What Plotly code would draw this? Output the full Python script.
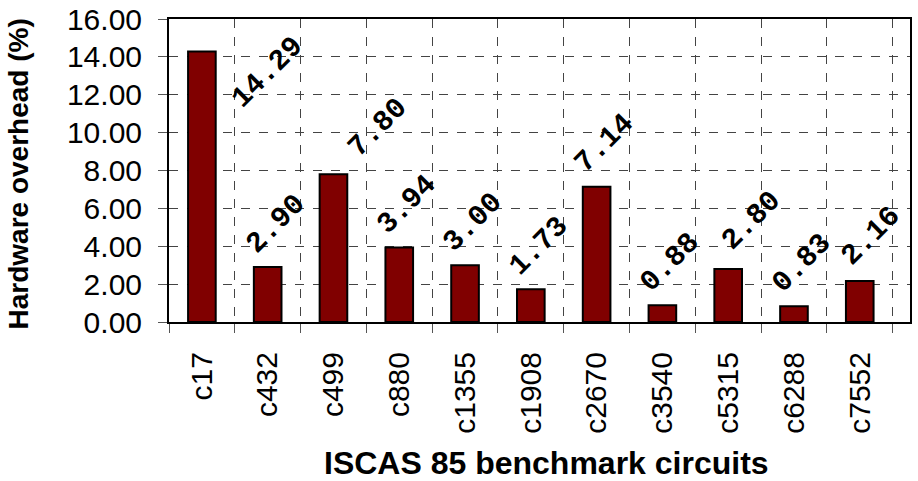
import plotly.graph_objects as go

circuits = ["c17", "c432", "c499", "c880", "c1355", "c1908", "c2670",
            "c3540", "c5315", "c6288", "c7552"]
overhead = [14.29, 2.90, 7.80, 3.94, 3.00, 1.73, 7.14, 0.88, 2.80, 0.83, 2.16]
y_ticks = [0, 2, 4, 6, 8, 10, 12, 14, 16]

# extra pixel nudges for labels that were moved away from the default spot
label_nudge_x = [58, 0, 37, 0, 0, 0, 0, 0, 16, 0, 3]
label_nudge_y = [-64, 0, 4, 0, 0, 0, 0, 0, 5, 0, 2]

fig = go.Figure()
fig.add_trace(go.Bar(
    x=circuits, y=overhead, width=0.42,
    marker=dict(color="#800000", line=dict(color="#000000", width=2)),
))

for c, v, nx, ny in zip(circuits, overhead, label_nudge_x, label_nudge_y):
    fig.add_annotation(
        x=c, y=v, text=f"<b>{v:.2f}</b>", showarrow=False, textangle=-45,
        xanchor="center", yanchor="middle",
        xshift=8 + nx, yshift=43 + ny,
        font=dict(family="Liberation Mono, Courier New, monospace", size=29, color="#000"),
    )

fig.add_annotation(
    xref="paper", yref="paper", x=0, y=0.5, xshift=-151, yshift=-4,
    text="<b>Hardware overhead (%)</b>", textangle=-90, showarrow=False,
    xanchor="center", yanchor="middle",
    font=dict(family="Liberation Sans, Arial, sans-serif", size=28, color="#000"),
)
fig.add_annotation(
    xref="paper", yref="paper", x=0.5, y=0, xshift=7, yshift=-141,
    text="<b>ISCAS 85 benchmark circuits</b>", showarrow=False,
    xanchor="center", yanchor="middle",
    font=dict(family="Liberation Sans, Arial, sans-serif", size=32, color="#000"),
)

fig.update_layout(
    width=918, height=481,
    margin=dict(l=169, r=8, t=19, b=159, autoexpand=False),
    plot_bgcolor="white", paper_bgcolor="white",
    showlegend=False,
    font=dict(family="Liberation Sans, Arial, sans-serif", size=30, color="#000"),
)
fig.update_xaxes(
    type="category", tickson="boundaries", tickangle=-90,
    ticks="outside", ticklen=9, tickwidth=1, tickcolor="#555",
    showgrid=True, gridcolor="#444", griddash="dash", gridwidth=1,
    showline=True, linecolor="#000", linewidth=2, mirror=True,
    ticklabelstandoff=16, automargin=False,
    tickfont=dict(size=30),
)
fig.update_yaxes(
    range=[0, 16], tickvals=y_ticks, ticktext=[f"{t:.2f}" for t in y_ticks],
    ticks="outside", ticklen=9, tickwidth=1, tickcolor="#555",
    showgrid=True, gridcolor="#444", griddash="dash", gridwidth=1,
    showline=True, linecolor="#000", linewidth=2, mirror=True,
    zeroline=False, ticklabelstandoff=10, automargin=False,
    tickfont=dict(size=30),
)

fig.write_html(
    "out.html",
    config={"displayModeBar": False},
    post_script="document.body.style.margin='0';document.body.style.overflow='hidden';",
)
